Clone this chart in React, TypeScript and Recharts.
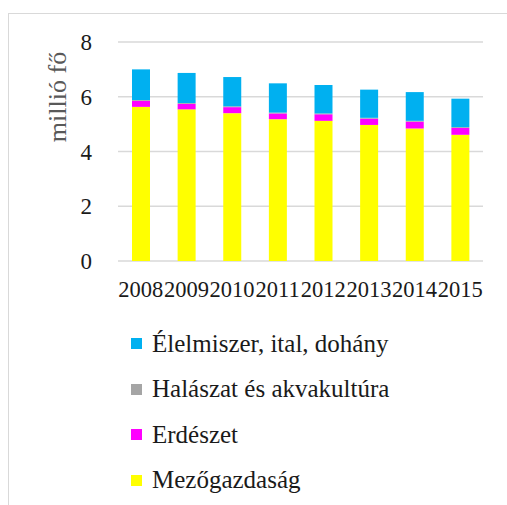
import React from 'react';
import { BarChart, Bar, XAxis, YAxis, CartesianGrid, Label } from 'recharts';

const years = ['2008', '2009', '2010', '2011', '2012', '2013', '2014', '2015'];
const mezogazdasag = [5.63, 5.54, 5.4, 5.18, 5.12, 4.97, 4.84, 4.61];
const erdeszet = [0.22, 0.2, 0.22, 0.21, 0.24, 0.23, 0.25, 0.25];
const halaszat = [0.03, 0.03, 0.03, 0.03, 0.03, 0.03, 0.03, 0.03];
const elelmiszer = [1.12, 1.1, 1.07, 1.07, 1.04, 1.03, 1.05, 1.04];
const yTicks = [0, 2, 4, 6, 8];

const series = [
  { key: 'mezo', name: 'Mezőgazdaság', color: '#FFFF00' },
  { key: 'erd', name: 'Erdészet', color: '#FF00FF' },
  { key: 'hal', name: 'Halászat és akvakultúra', color: '#A5A5A5' },
  { key: 'elel', name: 'Élelmiszer, ital, dohány', color: '#00B0F0' },
];

const data = years.map((year, i) => ({
  year,
  mezo: mezogazdasag[i],
  erd: erdeszet[i],
  hal: halaszat[i],
  elel: elelmiszer[i],
}));

const FONT = '"Liberation Serif", "DejaVu Serif", serif';

function LegendBox() {
  return (
    <div
      style={{
        position: 'absolute',
        left: 131,
        top: 321,
        fontFamily: FONT,
        fontSize: 25,
        color: '#1a1a1a',
      }}
    >
      {[...series].reverse().map((s) => (
        <div key={s.key} style={{ display: 'flex', alignItems: 'center', height: 45.5 }}>
          <span style={{ width: 11, height: 11, background: s.color, marginRight: 10 }} />
          <span>{s.name}</span>
        </div>
      ))}
    </div>
  );
}

export default function App() {
  return (
    <div style={{ position: 'absolute', left: 0, top: 0, width: 507, height: 505, overflow: 'hidden', background: '#fff' }}>
      <div
        style={{
          position: 'absolute',
          left: 8,
          top: 13,
          width: 600,
          height: 600,
          border: '1px solid #d9d9d9',
        }}
      />
      <div style={{ position: 'absolute', left: 0, top: 0 }}>
        <BarChart
          width={507}
          height={320}
          data={data}
          margin={{ top: 42, right: 24, left: 0, bottom: 24 }}
          barSize={18}
        >
          <CartesianGrid vertical={false} stroke="#d9d9d9" strokeWidth={1.5} />
          <XAxis
            dataKey="year"
            height={35}
            axisLine={false}
            tickLine={false}
            tickSize={0}
            tickMargin={20}
            interval={0}
            tick={{ fill: '#1a1a1a', fontSize: 22.5, fontFamily: FONT }}
          />
          <YAxis
            width={118}
            domain={[0, 8]}
            ticks={yTicks}
            axisLine={false}
            tickLine={false}
            tickSize={0}
            tickMargin={26}
            tick={{ fill: '#1a1a1a', fontSize: 23, fontFamily: FONT }}
          >
            <Label
              content={() => (
                <text
                  x={66}
                  y={97}
                  transform="rotate(-90 66 97)"
                  textAnchor="middle"
                  fill="#595959"
                  fontSize={26}
                  fontFamily={FONT}
                >
                  millió fő
                </text>
              )}
            />
          </YAxis>
          {series.map((s) => (
            <Bar
              key={s.key}
              dataKey={s.key}
              name={s.name}
              stackId="a"
              fill={s.color}
              isAnimationActive={false}
            />
          ))}
        </BarChart>
      </div>
      <LegendBox />
    </div>
  );
}
